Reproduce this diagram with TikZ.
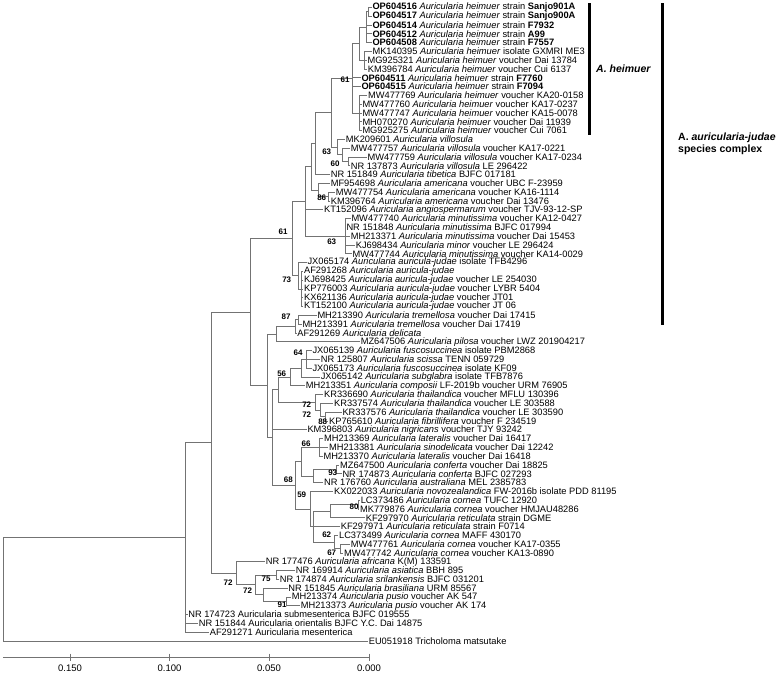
\documentclass[tikz,border=0pt]{standalone}
\usepackage{fontspec}
\setmainfont{Liberation Sans}
\newcommand{\au}[1]{\textit{Auricularia #1}}
\tikzset{
  branch/.style={draw=black!55, line width=0.7pt},
  leaf/.style={anchor=west, inner sep=0.6pt, font=\fontsize{9.3}{9}\selectfont},
  boot/.style={inner sep=0pt, font=\fontsize{8}{9}\selectfont\bfseries},
  cladebar/.style={line width=2.4pt},
}
\begin{document}
\begin{tikzpicture}[x=1pt, y=-1pt]
  \useasboundingbox (0,0) rectangle (777,674);

  % Leaves (row n sits at y = 7.3 + 8.8(n-1))
  \foreach \n/\x/\t in {
    1/371.7/{\textbf{OP604516} \au{heimuer} strain \textbf{Sanjo901A}},
    2/371.7/{\textbf{OP604517} \au{heimuer} strain \textbf{Sanjo900A}},
    3/371.7/{\textbf{OP604514} \au{heimuer} strain \textbf{F7932}},
    4/371.7/{\textbf{OP604512} \au{heimuer} strain \textbf{A99}},
    5/371.7/{\textbf{OP604508} \au{heimuer} strain \textbf{F7557}},
    6/371.7/{MK140395 \au{heimuer} isolate GXMRI ME3},
    7/366.7/{MG925321 \au{heimuer} voucher Dai 13784},
    8/367/{KM396784 \au{heimuer} voucher Cui 6137},
    9/360.7/{\textbf{OP604511} \au{heimuer} strain \textbf{F7760}},
    10/360.7/{\textbf{OP604515} \au{heimuer} strain \textbf{F7094}},
    11/367.3/{MW477769 \au{heimuer} voucher KA20-0158},
    12/361.7/{MW477760 \au{heimuer} voucher KA17-0237},
    13/361.7/{MW477747 \au{heimuer} voucher KA15-0078},
    14/361.7/{MH070270 \au{heimuer} voucher Dai 11939},
    15/361.7/{MG925275 \au{heimuer} voucher Cui 7061},
    16/345/{MK209601 \au{villosula}},
    17/350/{MW477757 \au{villosula} voucher KA17-0221},
    18/366.7/{MW477759 \au{villosula} voucher KA17-0234},
    19/350/{NR 137873 \au{villosula} LE 296422},
    20/330/{NR 151849 \au{tibetica} BJFC 017181},
    21/330/{MF954698 \au{americana} voucher UBC F-23959},
    22/335/{MW477754 \au{americana} voucher KA16-1114},
    23/330/{KM396764 \au{americana} voucher Dai 13476},
    24/323.3/{KT152096 \au{angiospermarum} voucher TJV-93-12-SP},
    25/350.7/{MW477740 \au{minutissima} voucher KA12-0427},
    26/345.7/{NR 151848 \au{minutissima} BJFC 017994},
    27/350/{MH213371 \au{minutissima} voucher Dai 15453},
    28/355/{KJ698434 \au{minor} voucher LE 296424},
    29/351.7/{MW477744 \au{minutissima} voucher KA14-0029},
    30/306.7/{JX065174 \au{auricula-judae} isolate TFB4296},
    31/303.3/{AF291268 \au{auricula-judae}},
    32/303.3/{KJ698425 \au{auricula-judae} voucher LE 254030},
    33/303.3/{KP776003 \au{auricula-judae} voucher LYBR 5404},
    34/303.3/{KX621136 \au{auricula-judae} voucher JT01},
    35/303.3/{KT152100 \au{auricula-judae} voucher JT 06},
    36/316.7/{MH213390 \au{tremellosa} voucher Dai 17415},
    37/301.7/{MH213391 \au{tremellosa} voucher Dai 17419},
    38/296.5/{AF291269 \au{delicata}},
    39/360/{MZ647506 \au{pilosa} voucher LWZ 201904217},
    40/311.7/{JX065139 \au{fuscosuccinea} isolate PBM2868},
    41/320/{NR 125807 \au{scissa} TENN 059729},
    42/311.7/{JX065173 \au{fuscosuccinea} isolate KF09},
    43/320/{JX065142 \au{subglabra} isolate TFB7876},
    44/305/{MH213351 \au{composii} LF-2019b voucher URM 76905},
    45/323.3/{KR336690 \au{thailandica} voucher MFLU 130396},
    46/333.3/{KR337574 \au{thailandica} voucher LE 303588},
    47/341.7/{KR337576 \au{thailandica} voucher LE 303590},
    48/328.3/{KP765610 \au{fibrillifera} voucher F 234519},
    49/306.7/{KM396803 \au{nigricans} voucher TJY 93242},
    50/323.3/{MH213369 \au{lateralis} voucher Dai 16417},
    51/328.3/{MH213381 \au{sinodelicata} voucher Dai 12242},
    52/322.7/{MH213370 \au{lateralis} voucher Dai 16418},
    53/339.3/{MZ647500 \au{conferta} voucher Dai 18825},
    54/341.7/{NR 174873 \au{conferta} BJFC 027293},
    55/323.3/{NR 176760 \au{australiana} MEL 2385783},
    56/333.3/{KX022033 \au{novozealandica} FW-2016b isolate PDD 81195},
    57/360/{LC373486 \au{cornea} TUFC 12920},
    58/359.3/{MK779876 \au{cornea} voucher HMJAU48286},
    59/365/{KF297970 \au{reticulata} strain DGME},
    60/340/{KF297971 \au{reticulata} strain F0714},
    61/338.3/{LC373499 \au{cornea} MAFF 430170},
    62/350/{MW477761 \au{cornea} voucher KA17-0355},
    63/343.3/{MW477742 \au{cornea} voucher KA13-0890},
    64/265/{NR 177476 \au{africana} K(M) 133591},
    65/295/{NR 169914 \au{asiatica} BBH 895},
    66/279/{NR 174874 \au{srilankensis} BJFC 031201},
    67/287.5/{NR 151845 \au{brasiliana} URM 85567},
    68/291/{MH213374 \au{pusio} voucher AK 547},
    69/300/{MH213373 \au{pusio} voucher AK 174},
    70/187.5/{NR 174723 Auricularia submesenterica BJFC 019555},
    71/198/{NR 151844 Auricularia orientalis BJFC Y.C. Dai 14875},
    72/209/{AF291271 Auricularia mesenterica},
    73/368/{EU051918 Tricholoma matsutake}}
    \node[leaf] (l\n) at (\x, {7.3+8.8*(\n-1)}) {\t};

  % Internal nodes
  \coordinate (ha0) at (368.5, 11.7);
  \coordinate (ha1) at (366, 27.1);
  \coordinate (ha2) at (364.5, 60.1);
  \coordinate (ha) at (359, 43.6);
  \coordinate (hb) at (359.5, 112.9);
  \coordinate (h) at (352.7, 78.25);
  \coordinate (v2) at (348, 161.3);
  \coordinate (v1) at (342, 154.7);
  \coordinate (v) at (337.3, 147);
  \coordinate (hv) at (331.7, 112.6);
  \coordinate (ub) at (315, 143.55);
  \coordinate (am2) at (328.3, 196.5);
  \coordinate (am) at (318.3, 189.9);
  \coordinate (ubb) at (311.7, 166.7);
  \coordinate (mn) at (345, 236.1);
  \coordinate (ua) at (305, 201.4);
  \coordinate (aj2) at (301.7, 288.9);
  \coordinate (aj) at (298.3, 275.7);
  \coordinate (u) at (292.7, 238.55);
  \coordinate (t1) at (298.3, 319.7);
  \coordinate (t2) at (295.5, 326.3);
  \coordinate (t3) at (276.7, 334);
  \coordinate (f1) at (306, 359.3);
  \coordinate (f2) at (301.7, 368.1);
  \coordinate (f3) at (290, 376.9);
  \coordinate (k1) at (325, 416.5);
  \coordinate (k2) at (320, 409.9);
  \coordinate (k3) at (315, 402.2);
  \coordinate (g1) at (278.3, 389.55);
  \coordinate (lat) at (319.3, 447.3);
  \coordinate (conf) at (336.7, 469.3);
  \coordinate (cl2) at (313.3, 475.9);
  \coordinate (cl) at (301.7, 461.6);
  \coordinate (cor1a) at (358, 504.5);
  \coordinate (cor1) at (330, 511.1);
  \coordinate (cor2a) at (340.5, 548.5);
  \coordinate (cor2) at (334.5, 541.9);
  \coordinate (cor) at (313.3, 526.5);
  \coordinate (nz) at (310, 508.9);
  \coordinate (cc) at (295, 485.25);
  \coordinate (x) at (272.7, 437.4);
  \coordinate (low) at (267.3, 385.7);
  \coordinate (mid) at (250, 312.1);
  \coordinate (b3) at (276.7, 574.9);
  \coordinate (b5) at (286.7, 601.3);
  \coordinate (b4) at (263.4, 594.7);
  \coordinate (b2) at (255, 584.8);
  \coordinate (b1) at (236, 573.25);
  \coordinate (ing) at (211.7, 442.7);
  \coordinate (aur) at (185.7, 537.4);
  \coordinate (root) at (2.9, 589.15);

  % Branches
  \foreach \p/\c in {
    ha0/l1.west, ha0/l2.west, ha1/ha0, ha1/l3.west, ha1/l4.west, ha1/l5.west,
    ha2/l6.west, ha2/l7.west, ha2/l8.west, ha/ha1, ha/ha2,
    hb/l11.west, hb/l12.west, hb/l13.west, hb/l14.west, hb/l15.west,
    h/ha, h/l9.west, h/l10.west, h/hb,
    v2/l18.west, v2/l19.west, v1/l17.west, v1/v2, v/l16.west, v/v1,
    hv/h, hv/v, ub/hv, ub/l20.west,
    am2/l22.west, am2/l23.west, am/l21.west, am/am2, ubb/ub, ubb/am,
    mn/l25.west, mn/l26.west, mn/l27.west, mn/l28.west, mn/l29.west,
    ua/ubb, ua/l24.west, ua/mn,
    aj2/l31.west, aj2/l32.west, aj2/l33.west, aj2/l34.west, aj2/l35.west,
    aj/l30.west, aj/aj2, u/ua, u/aj,
    t1/l36.west, t1/l37.west, t2/t1, t2/l38.west, t3/t2, t3/l39.west,
    f1/l40.west, f1/l41.west, f1/l42.west, f2/f1, f2/l43.west, f3/f2, f3/l44.west,
    k1/l47.west, k1/l48.west, k2/l46.west, k2/k1, k3/l45.west, k3/k2,
    g1/f3, g1/k3,
    lat/l50.west, lat/l51.west, lat/l52.west, conf/l53.west, conf/l54.west,
    cl2/conf, cl2/l55.west, cl/lat, cl/cl2,
    cor1a/l57.west, cor1a/l58.west, cor1/cor1a, cor1/l59.west,
    cor2a/l62.west, cor2a/l63.west, cor2/l61.west, cor2/cor2a,
    cor/cor1, cor/l60.west, cor/cor2, nz/l56.west, nz/cor,
    cc/cl, cc/nz, x/g1, x/l49.west, x/cc, low/t3, low/x, mid/u, mid/low,
    b3/l65.west, b3/l66.west, b5/l68.west, b5/l69.west, b4/l67.west, b4/b5,
    b2/b3, b2/b4, b1/l64.west, b1/b2, ing/mid, ing/b1,
    aur/ing, aur/l70.west, aur/l71.west, aur/l72.west,
    root/aur, root/l73.west}
    \draw[branch] (\p) |- (\c);

  % Bootstrap values
  \foreach \x/\y/\v [count=\i] in {
    345/80/61, 326.7/151.7/63, 335/163.5/60, 321.7/197.7/86, 283/232/61,
    331.7/241.7/63, 286.7/280/73, 286/317/87, 298/353/64, 281.7/374/56,
    306.7/405/72, 306.7/415/72, 322.7/421.7/88, 306/443.3/66, 332.7/472.3/93,
    288.3/480/68, 301.7/495/59, 354/506.7/80, 326.7/535/62, 331.7/552.3/67,
    228/583/72, 266/579/75, 247.5/591/72, 282/605/91}
    \node[boot] (bs\i) at (\x,\y) {\v};

  % Clade bars
  \draw[cladebar] (589.3,3.3) -- (589.3,135);
  \node[anchor=west, inner sep=0pt, font=\fontsize{10.5}{11.7}\selectfont\bfseries\itshape] (heimuer) at (596,68.3) {A. heimuer};
  \draw[cladebar] (662.3,3.3) -- (662.3,325);
  \node[anchor=west, align=left, inner sep=0pt, font=\fontsize{10.5}{11.7}\selectfont\bfseries] (complex) at (678,144) {A.\ \textit{auricularia-judae}\\species complex};

  % Scale
  \draw[branch] (2.9,657) -- (369,657);
  \foreach \x/\v in {70/0.150, 169.5/0.100, 269/0.050, 369/0.000}{
    \draw[branch] (\x,653.5) -- (\x,660.5);
    \node[font=\fontsize{9.5}{9}\selectfont] at (\x,668.5) {\v};
  }
\end{tikzpicture}
\end{document}
